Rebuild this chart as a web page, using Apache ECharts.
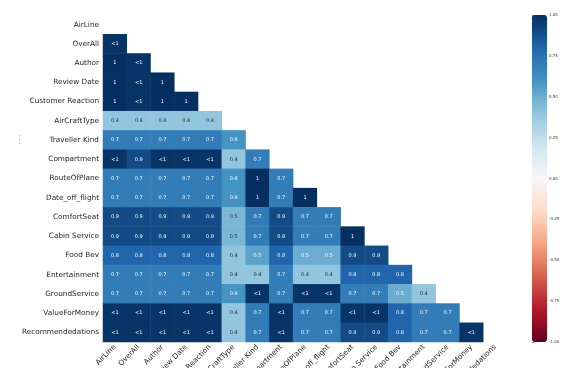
<!DOCTYPE html>
<html>
<head>
<meta charset="utf-8">
<script src="https://cdn.jsdelivr.net/npm/echarts@6/dist/echarts.min.js"></script>
<style>
  html, body { margin: 0; padding: 0; background: #fff; }
  #chart { width: 567px; height: 368px; }
</style>
</head>
<body>
<div id="chart"></div>
<script>
// Column / row names of the nullity-correlation matrix
const columns = ['AirLine', 'OverAll', 'Author', 'Review Date', 'Customer Reaction',
  'AirCraftType', 'Traveller Kind', 'Compartment', 'RouteOfPlane', 'Date_off_flight',
  'ComfortSeat', 'Cabin Service', 'Food Bev', 'Entertainment', 'GroundService',
  'ValueForMoney', 'Recommendedations'];

// a correlation just under 1 (printed as "<1")
const LT1 = 0.98;

// lower triangle, row i holds columns 0..i-1
const corrRows = [
  [],
  [LT1],
  [1, LT1],
  [1, LT1, 1],
  [1, LT1, 1, 1],
  [0.4, 0.4, 0.4, 0.4, 0.4],
  [0.7, 0.7, 0.7, 0.7, 0.7, 0.6],
  [LT1, 0.9, LT1, LT1, LT1, 0.4, 0.7],
  [0.7, 0.7, 0.7, 0.7, 0.7, 0.6, 1, 0.7],
  [0.7, 0.7, 0.7, 0.7, 0.7, 0.6, 1, 0.7, 1],
  [0.9, 0.9, 0.9, 0.9, 0.9, 0.46, 0.7, 0.9, 0.7, 0.7],
  [0.9, 0.9, 0.9, 0.9, 0.9, 0.46, 0.7, 0.9, 0.7, 0.7, 1],
  [0.8, 0.8, 0.8, 0.8, 0.8, 0.4, 0.54, 0.8, 0.5, 0.5, 0.9, 0.9],
  [0.7, 0.7, 0.7, 0.7, 0.7, 0.4, 0.4, 0.7, 0.4, 0.4, 0.8, 0.8, 0.8],
  [0.7, 0.7, 0.7, 0.7, 0.7, 0.6, LT1, 0.7, LT1, LT1, 0.7, 0.7, 0.5, 0.4],
  [LT1, LT1, LT1, LT1, LT1, 0.4, 0.7, LT1, 0.7, 0.7, LT1, LT1, 0.8, 0.7, 0.7],
  [LT1, LT1, LT1, LT1, LT1, 0.4, 0.7, LT1, 0.7, 0.7, 0.9, 0.9, 0.8, 0.7, 0.7, LT1]
];

// colour bar range and tick step
const colorMin = -1;
const colorMax = 1;
const colorStep = 0.25;

// RdBu diverging palette, low to high
const rdBu = ['#67001f', '#b2182b', '#d6604d', '#f4a582', '#fddbc7', '#f7f7f7',
  '#d1e5f0', '#92c5de', '#4393c3', '#2166ac', '#053061'];

function hexToRgb(h) {
  return [parseInt(h.slice(1, 3), 16), parseInt(h.slice(3, 5), 16), parseInt(h.slice(5, 7), 16)];
}
function colorAt(v) {
  const t = (v - colorMin) / (colorMax - colorMin) * (rdBu.length - 1);
  const i = Math.min(rdBu.length - 2, Math.floor(t));
  const f = t - i;
  const a = hexToRgb(rdBu[i]), b = hexToRgb(rdBu[i + 1]);
  return a.map((c, k) => c + (b[k] - c) * f);
}
function luminance(rgb) {
  const lin = rgb.map(c => {
    c /= 255;
    return c <= 0.03928 ? c / 12.92 : Math.pow((c + 0.055) / 1.055, 2.4);
  });
  return 0.2126 * lin[0] + 0.7152 * lin[1] + 0.0722 * lin[2];
}
function cellText(v) {
  if (v === 1) return '1';
  if (v === -1) return '-1';
  if (v >= 0.95 && v < 1) return '<1';
  if (v <= -0.95 && v > -1) return '>-1';
  return (Math.round(v * 10) / 10).toFixed(1);
}

const cells = [];
corrRows.forEach((row, r) => {
  row.forEach((v, c) => {
    cells.push({
      value: [c, r, v],
      label: { color: luminance(colorAt(v)) > 0.408 ? '#262626' : '#ffffff' }
    });
  });
});

const FONT = 'DejaVu Sans';
const chart = echarts.init(document.getElementById('chart'), null, { renderer: 'canvas' });

chart.setOption({
  animation: false,
  backgroundColor: '#ffffff',
  textStyle: { fontFamily: FONT },
  grid: [
    { left: 103, top: 15, width: 404, height: 327, outerBoundsMode: 'none', containLabel: false },
    { left: 532, top: 15, width: 15, height: 327, outerBoundsMode: 'none', containLabel: false }
  ],
  xAxis: [
    {
      type: 'category', gridIndex: 0, data: columns,
      axisLine: { show: false }, axisTick: { show: false },
      splitLine: { show: false }, splitArea: { show: false },
      axisLabel: { interval: 0, rotate: 45, fontSize: 7.3, color: '#262626', margin: 4, fontFamily: FONT }
    },
    { type: 'value', gridIndex: 1, min: 0, max: 1, show: false }
  ],
  yAxis: [
    {
      type: 'category', gridIndex: 0, data: columns, inverse: true,
      axisLine: { show: false }, axisTick: { show: false },
      splitLine: { show: false }, splitArea: { show: false },
      axisLabel: { interval: 0, fontSize: 7.3, color: '#262626', margin: 4, fontFamily: FONT }
    },
    {
      type: 'value', gridIndex: 1, position: 'right',
      min: colorMin, max: colorMax, interval: colorStep,
      axisLine: { show: false },
      axisTick: { show: true, length: 2, lineStyle: { color: '#333', width: 0.6 } },
      splitLine: { show: false },
      axisLabel: { fontSize: 4, color: '#333', margin: 2, fontFamily: FONT,
        formatter: v => v.toFixed(2) }
    }
  ],
  visualMap: {
    type: 'continuous',
    min: colorMin, max: colorMax,
    seriesIndex: 0,
    calculable: false,
    orient: 'vertical',
    left: 532, top: 15,
    itemWidth: 15, itemHeight: 327,
    padding: 0,
    text: null,
    inRange: { color: rdBu }
  },
  graphic: [
    { type: 'text', left: 14, top: 135,
      style: { text: '⋮', fill: '#c4c4c4', fontSize: 11, fontFamily: FONT } }
  ],
  series: [
    {
      type: 'heatmap',
      xAxisIndex: 0, yAxisIndex: 0,
      data: cells,
      itemStyle: { borderWidth: 0 },
      label: {
        show: true, fontSize: 5, fontFamily: FONT,
        formatter: p => cellText(p.value[2])
      },
      emphasis: { disabled: true }
    }
  ]
});
</script>
</body>
</html>
